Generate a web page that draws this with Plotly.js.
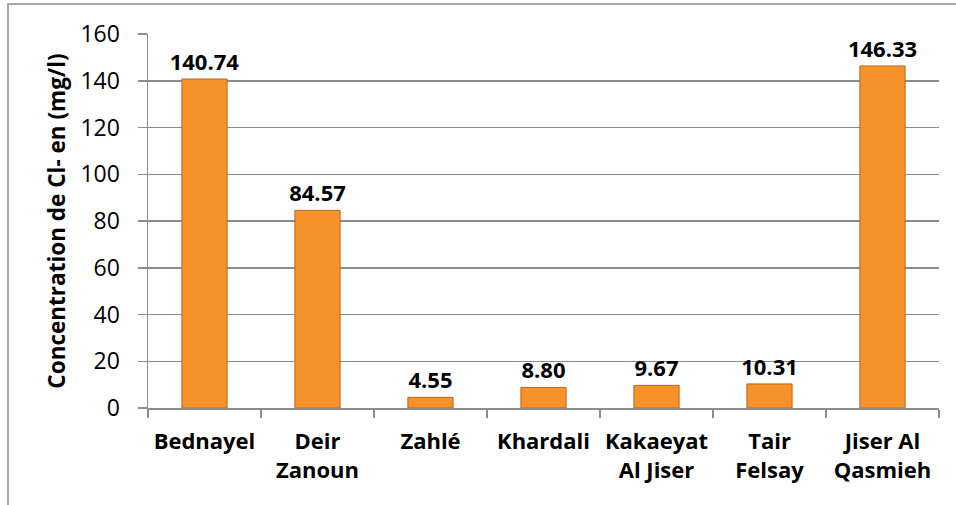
<!DOCTYPE html>
<html>
<head>
<meta charset="utf-8">
<script src="https://cdn.plot.ly/plotly-3.0.1.min.js"></script>
<style>html,body{margin:0;padding:0;background:#fff;}#chart{width:956px;height:505px;}</style>
</head>
<body>
<div id="chart"></div>
<script>
const categories = ["Bednayel", "Deir<br>Zanoun", "Zahlé", "Khardali", "Kakaeyat<br>Al Jiser", "Tair<br>Felsay", "Jiser Al<br>Qasmieh"];
const values = [140.74, 84.57, 4.55, 8.80, 9.67, 10.31, 146.33];
const yTicks = [0, 20, 40, 60, 80, 100, 120, 140, 160];
const yTitle = "Concentration de Cl- en (mg/l)";

const FONT = "'Open Sans', sans-serif";
const grid = "#8c8c8c";

const trace = {
  type: "bar",
  x: categories,
  y: values,
  width: 0.4,
  marker: { color: "#F5922A", line: { color: "#C2651A", width: 1 } },
  texttemplate: "<b>%{y:.2f}</b>",
  textposition: "outside",
  constraintext: "none",
  cliponaxis: false,
  textfont: { family: FONT, size: 22, color: "#000" },
  hoverinfo: "skip"
};

const layout = {
  width: 956, height: 505,
  margin: { l: 148, r: 17, t: 34, b: 97 },
  paper_bgcolor: "#fff", plot_bgcolor: "#fff",
  showlegend: false,
  font: { family: FONT, color: "#000" },
  xaxis: {
    type: "category",
    tickson: "boundaries",
    ticks: "outside", ticklen: 8, tickcolor: grid, tickwidth: 1.5,
    showline: true, linecolor: grid, linewidth: 1.5,
    showgrid: false,
    tickfont: { family: FONT, size: 22, color: "#000", weight: "bold" },
    ticklabelstandoff: 13
  },
  yaxis: {
    range: [0, 160],
    tickvals: yTicks,
    ticktext: yTicks.map(String),
    ticks: "outside", ticklen: 9, tickcolor: grid, tickwidth: 1.5,
    showline: true, linecolor: grid, linewidth: 1.5,
    showgrid: true, gridcolor: grid, gridwidth: 1.5,
    zeroline: false,
    tickfont: { family: FONT, size: 23, color: "#000" },
    ticklabelstandoff: 13,
    title: { text: "<b>" + yTitle + "</b>", font: { family: FONT, size: 22.5, color: "#000" }, standoff: 8 }
  },
  shapes: [{
    type: "rect", xref: "paper", yref: "paper",
    x0: (8 - 148) / 791, x1: (970 - 148) / 791,
    y0: (408 - 520) / 374, y1: (408 - 4) / 374,
    line: { color: "#8c8c8c", width: 1.5 }, fillcolor: "rgba(0,0,0,0)", layer: "below"
  }]
};

Plotly.newPlot("chart", [trace], layout, { displayModeBar: false, staticPlot: true });
</script>
</body>
</html>
